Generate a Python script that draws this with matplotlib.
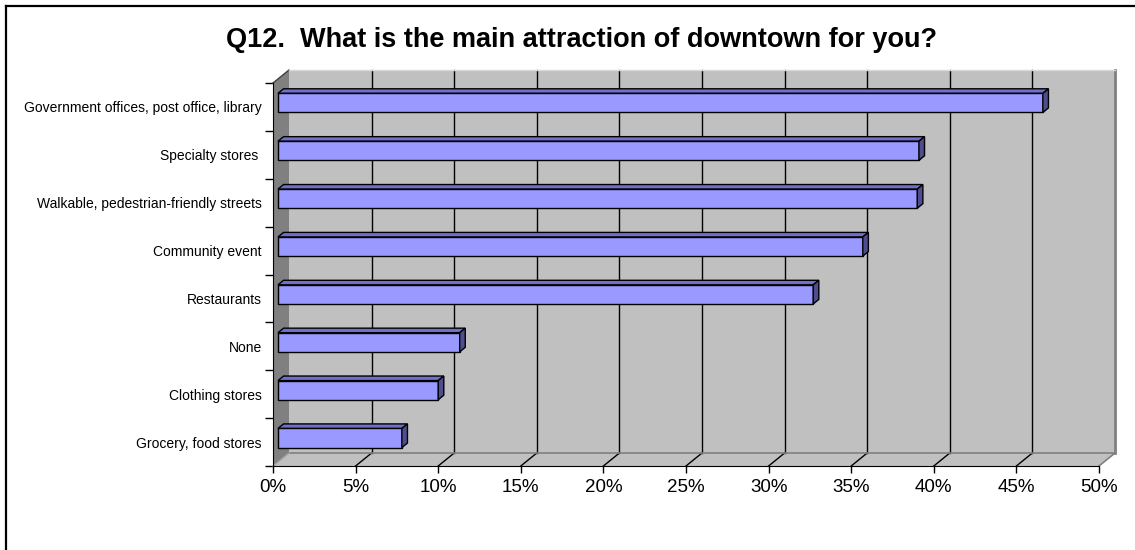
import matplotlib
matplotlib.use("Agg")
import matplotlib.pyplot as plt
from matplotlib.patches import Polygon
from matplotlib.lines import Line2D
import numpy as np

plt.rcParams['font.family'] = ['Liberation Sans', 'DejaVu Sans']

# данные
categories = [
    "Government offices, post office, library",
    "Specialty stores ",
    "Walkable, pedestrian-friendly streets",
    "Community event",
    "Restaurants",
    "None",
    "Clothing stores",
    "Grocery, food stores",
]
values = [46.3, 38.8, 38.7, 35.4, 32.4, 11.0, 9.7, 7.5]
x_ticks = [0, 5, 10, 15, 20, 25, 30, 35, 40, 45, 50]
x_tick_labels = [f"{t}%" for t in x_ticks]
title = "Q12.  What is the main attraction of downtown for you?"

W, H = 1135, 550
fig = plt.figure(figsize=(W / 100, H / 100), dpi=100)
fig.patch.set_facecolor("white")

# рамка вокруг рисунка
fig.add_artist(Line2D([6 / W, 1.0], [1 - 6 / H, 1 - 6 / H], color="black", lw=1.6))
fig.add_artist(Line2D([6 / W, 6 / W], [1 - 6 / H, 0], color="black", lw=1.6))

# передняя плоскость графика
ax = fig.add_axes([273 / W, (H - 466) / H, (1099 - 273) / W, (466 - 83) / H])
n = len(categories)
ax.set_xlim(0, 50)
ax.set_ylim(n - 0.5, -0.5)
ax.patch.set_visible(False)
for s in ["top", "right"]:
    ax.spines[s].set_visible(False)
ax.spines["left"].set_zorder(10)
ax.spines["bottom"].set_zorder(10)

# глубина 3D в пикселях -> в единицах данных
depth_px = (16, 13)
p0 = ax.transData.transform((0, 0))
px = ax.transData.transform((1, 0))[0] - p0[0]
py = ax.transData.transform((0, 1))[1] - p0[1]
DX = depth_px[0] / px
DY = depth_px[1] / py


def P(x, y, d):
    return (x + d * DX, y + d * DY)


def poly(pts, fc, ec="none", lw=0.0, z=1):
    ax.add_patch(Polygon(pts, closed=True, facecolor=fc, edgecolor=ec,
                         linewidth=lw, zorder=z, clip_on=False))


top, bot = -0.5, n - 0.5
# задняя стенка
poly([P(0, top, 1), P(50, top, 1), P(50, bot, 1), P(0, bot, 1)], "#C0C0C0", z=1)
# левая стенка
poly([P(0, top, 0), P(0, top, 1), P(0, bot, 1), P(0, bot, 0)], "#808080", z=2)
# пол
poly([P(0, bot, 0), P(50, bot, 0), P(50, bot, 1), P(0, bot, 1)], "#C0C0C0", z=2)

# линии сетки
for t in x_ticks[1:-1]:
    a, b = P(t, bot, 1), P(t, top, 1)
    ax.plot([a[0], b[0]], [a[1], b[1]], color="black", lw=1, zorder=3, clip_on=False)
    c = P(t, bot, 0)
    ax.plot([c[0], a[0]], [c[1], a[1]], color="black", lw=1, zorder=3, clip_on=False)
# края
a, b = P(50, bot, 1), P(50, top, 1)
ax.plot([a[0], b[0]], [a[1], b[1]], color="#808080", lw=2, zorder=3, clip_on=False)
c = P(50, bot, 0)
ax.plot([c[0], a[0]], [c[1], a[1]], color="#808080", lw=1.2, zorder=3, clip_on=False)
a, b = P(0, bot, 1), P(50, bot, 1)
ax.plot([a[0], b[0]], [a[1], b[1]], color="#808080", lw=1.2, zorder=3, clip_on=False)
a, b = P(0, top, 0), P(0, top, 1)
ax.plot([a[0], b[0]], [a[1], b[1]], color="#404040", lw=1, zorder=3, clip_on=False)
a, b = P(0, bot, 0), P(0, bot, 1)
ax.plot([a[0], b[0]], [a[1], b[1]], color="#A0A0A0", lw=1, zorder=3, clip_on=False)
a, b = P(0, top, 1), P(50, top, 1)
ax.plot([a[0], b[0]], [a[1], b[1]], color="#D8D8D8", lw=1, zorder=3, clip_on=False)

# столбцы
d1, d2 = 0.31, 0.66
hh = 0.2
ys = np.arange(n)
ax.barh(ys + d1 * DY, values, left=d1 * DX, height=2 * hh, color="#9999FF",
        edgecolor="black", linewidth=1, zorder=5)
for y, v in zip(ys, values):
    # верхняя грань
    poly([P(0, y - hh, d1), P(v, y - hh, d1), P(v, y - hh, d2), P(0, y - hh, d2)],
         "#7070CC", "black", 1, z=4)
    # боковая грань
    poly([P(v, y - hh, d1), P(v, y - hh, d2), P(v, y + hh, d2), P(v, y + hh, d1)],
         "#4D4D8F", "black", 1, z=6)

# оси
ax.set_xticks(x_ticks)
ax.set_xticklabels(x_tick_labels, fontsize=13.5)
ax.tick_params(axis="x", direction="out", length=5, width=1, pad=4)
ax.set_yticks(ys)
ax.set_yticklabels(categories, fontsize=10)
ax.set_yticks(np.arange(n + 1) - 0.5, minor=True)
ax.tick_params(axis="y", which="major", length=0, pad=8)
ax.tick_params(axis="y", which="minor", length=6, width=1)

fig.text(582 / W, 1 - 47 / H, title, ha="center", va="baseline",
         fontsize=19.5, fontweight="bold")

fig.savefig("out.png", dpi=100)
